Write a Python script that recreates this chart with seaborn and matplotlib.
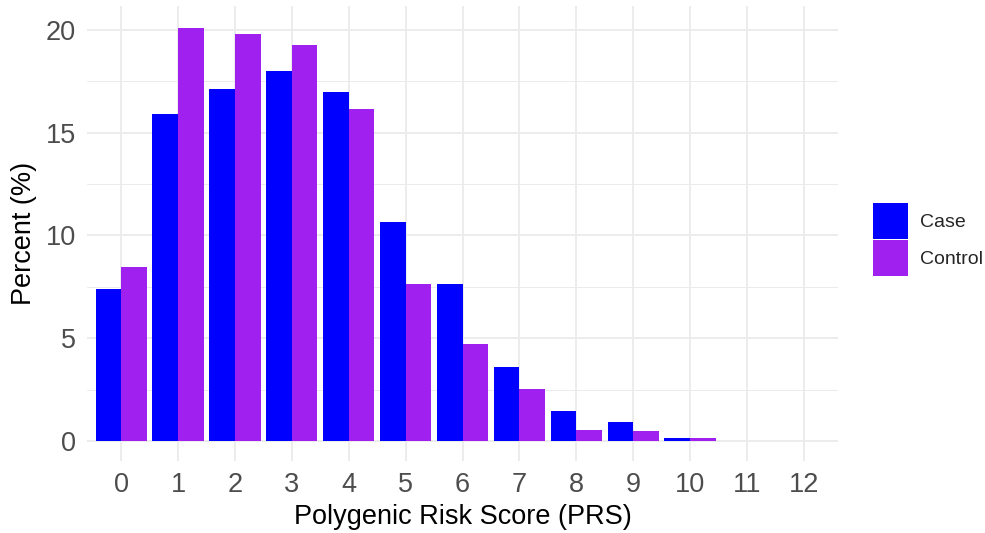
import matplotlib
matplotlib.use("Agg")
import matplotlib.pyplot as plt
import pandas as pd
import seaborn as sns
from matplotlib.ticker import MultipleLocator

# PRS categories and percent per group
prs = [str(i) for i in range(13)]
case_pct = [7.38, 15.91, 17.14, 17.99, 16.98, 10.66, 7.62, 3.58, 1.44, 0.92, 0.15, 0.0, 0.0]
control_pct = [8.45, 20.10, 19.81, 19.27, 16.14, 7.62, 4.72, 2.51, 0.54, 0.47, 0.15, 0.0, 0.0]
groups = ["Case", "Control"]
palette = {"Case": "#0000FF", "Control": "#A020F0"}

df = pd.DataFrame({
    "prs": prs * 2,
    "percent": case_pct + control_pct,
    "group": ["Case"] * len(prs) + ["Control"] * len(prs),
})

sns.set_theme(style="whitegrid")
plt.rcParams["font.family"] = ["Liberation Sans", "DejaVu Sans"]

fig = plt.figure(figsize=(9.85, 5.33), dpi=100)
ax = fig.add_axes([0.0883, 0.1351, 0.8508 - 0.0883, 0.9887 - 0.1351])

sns.barplot(data=df, x="prs", y="percent", hue="group", order=prs,
            hue_order=groups, palette=palette, width=0.9, gap=0,
            saturation=1, linewidth=0, ax=ax, legend=False)

ax.set_xlim(-0.6, 12.6)
ax.set_ylim(-0.97, 21.15)
ax.yaxis.set_major_locator(MultipleLocator(5))
ax.yaxis.set_minor_locator(MultipleLocator(2.5))

ax.set_facecolor("white")
for s in ax.spines.values():
    s.set_visible(False)
ax.grid(False)
ax.grid(which="major", axis="both", color="#EBEBEB", linewidth=1.3)
ax.grid(which="minor", axis="y", color="#EBEBEB", linewidth=0.7)
ax.set_axisbelow(True)

ax.tick_params(axis="both", which="both", length=0, labelsize=19.5,
               labelcolor="#4D4D4D", pad=8)

ax.set_xlabel("Polygenic Risk Score (PRS)", fontsize=19.5, color="black", labelpad=4)
ax.set_ylabel("Percent (%)", fontsize=19.5, color="black", labelpad=6)

handles = [plt.Rectangle((0, 0), 1, 1, facecolor=palette[g], edgecolor="none") for g in groups]
fig.legend(handles, groups, loc="center left", bbox_to_anchor=(0.886, 0.5507),
           frameon=False, fontsize=14, handlelength=1.8, handleheight=2.4,
           handletextpad=0.62, labelspacing=0.1, borderpad=0, borderaxespad=0)

plt.savefig("out.png", dpi=100)
plt.close()
